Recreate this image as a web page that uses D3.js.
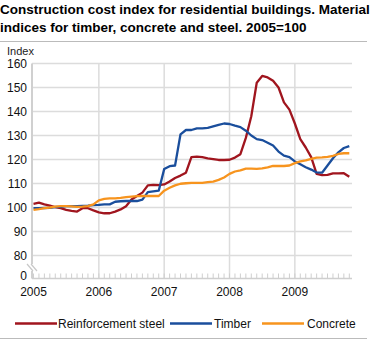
<!DOCTYPE html>
<html><head><meta charset="utf-8">
<script src="https://cdn.jsdelivr.net/npm/d3@7"></script>
<style>body{margin:0;background:#fff;} svg{display:block;font-family:"Liberation Sans",Arial,sans-serif;}</style>
</head><body>
<svg id="c" width="375" height="340"></svg>
<script>
const titleLines = ["Construction cost index for residential buildings. Material","indices for timber, concrete and steel. 2005=100"];
const years = ["2005","2006","2007","2008","2009"];
const yTicks = [80,90,100,110,120,130,140,150,160];
const seriesNames = ["Reinforcement steel","Timber","Concrete"];
// monthly, Jan 2005 - Nov 2009
const steel = [101.5,102,101.3,100.8,100.2,99.7,99.0,98.6,98.3,99.7,99.7,98.8,
  98.0,97.6,97.6,98.3,99.2,100.5,103.3,104.8,106.2,109.2,109.4,109.3,
  109.6,110.8,112.3,113.3,114.5,121.0,121.2,121.0,120.5,120.2,119.8,119.8,
  119.9,120.8,122.2,129,138,152,154.8,154.2,152.8,150,143.8,140.8,
  135,128.5,125,121,114,113.5,113.6,114.2,114.2,114.3,112.8];
const timber = [99.7,99.7,99.8,99.9,100.2,100.3,100.6,100.6,100.6,100.7,100.8,101,
  101.1,101.3,101.3,102.4,102.6,102.7,102.7,102.7,103.3,106.4,106.7,107,
  116,117.2,117.5,130.5,132.3,132.3,133,133,133.2,133.8,134.4,135,
  134.8,134.1,133.5,132,130,128.5,128.1,127,125.8,123.3,121.6,121,
  119.2,118,116.8,115.8,114.6,114.5,117.5,120.5,123,124.8,125.6];
const concrete = [99,99.3,99.7,100,100.4,100.6,100.6,100.5,100.3,100.4,100.6,101.3,
  103,103.6,103.8,103.8,104,104.3,104.5,104.7,104.8,104.8,104.8,104.8,
  107,108.2,109.2,109.9,110.1,110.3,110.3,110.3,110.6,110.8,111.5,112.5,
  114,115,115.5,116.2,116.2,116.1,116.3,116.7,117.3,117.3,117.3,117.5,
  118.5,119.2,119.6,120.3,120.8,120.9,121.1,121.5,122.3,122.6,122.6];
const colors = ["#a0151e","#1a4e9c","#f7941e"];

const svg = d3.select("#c");
const x = d3.scaleLinear().domain([0,58]).range([33.5,349.3]);
const y = d3.scaleLinear().domain([70,160]).range([278.5,63.5]);
const y2 = d3.scaleLinear().domain([80,160]).range([255.5,63.5]);
const left = 32, right = 352, base = 278.5;

// title
svg.append("text").attr("font-weight","bold").attr("font-size",13.5).attr("fill","#000")
  .selectAll("tspan").data(titleLines).join("tspan")
  .attr("x",0).attr("y",(d,i)=>13.5+i*18).text(d=>d);
svg.append("line").attr("x1",0).attr("x2",367).attr("y1",41.5).attr("y2",41.5).attr("stroke","#bbb");
svg.append("line").attr("x1",0).attr("x2",367).attr("y1",338.5).attr("y2",338.5).attr("stroke","#bbb");
svg.append("text").attr("x",7).attr("y",55).attr("font-size",11).attr("fill","#222").text("Index");

// horizontal grid
svg.append("g").selectAll("line").data(yTicks).join("line")
  .attr("x1",left).attr("x2",right).attr("y1",d=>y2(d)).attr("y2",d=>y2(d))
  .attr("stroke","#dcdcdc").attr("stroke-width",1.5);
// vertical grid at year starts
const yearIdx = years.map((d,i)=>i*12);
svg.append("g").selectAll("line").data(yearIdx.slice(1)).join("line")
  .attr("x1",d=>x(d)).attr("x2",d=>x(d)).attr("y1",y2(160)).attr("y2",base)
  .attr("stroke","#dcdcdc").attr("stroke-width",1.5);
// month ticks
svg.append("g").selectAll("line").data(d3.range(steel.length)).join("line")
  .attr("x1",d=>x(d)).attr("x2",d=>x(d)).attr("y1",base-5).attr("y2",base)
  .attr("stroke","#cfcfcf").attr("stroke-width",1);
// axes
svg.append("line").attr("x1",left).attr("x2",right).attr("y1",base).attr("y2",base).attr("stroke","#cfcfcf").attr("stroke-width",1.5);
svg.append("line").attr("x1",left).attr("x2",left).attr("y1",y2(160)).attr("y2",264).attr("stroke","#d0d0d0").attr("stroke-width",2);
svg.append("line").attr("x1",left).attr("x2",left).attr("y1",271).attr("y2",base).attr("stroke","#d0d0d0").attr("stroke-width",2);
[0,4].forEach(o=>svg.append("line").attr("x1",27+o).attr("x2",33+o).attr("y1",264).attr("y2",271).attr("stroke","#c8c8c8").attr("stroke-width",1.2));

// y labels
svg.append("g").selectAll("text").data(yTicks).join("text")
  .attr("x",27).attr("y",d=>y2(d)+4.5).attr("text-anchor","end").attr("font-size",12).attr("fill","#111").text(d=>d);
svg.append("text").attr("x",27).attr("y",base+1).attr("text-anchor","end").attr("font-size",12).attr("fill","#111").text("0");
// x labels
svg.append("g").selectAll("text").data(years).join("text")
  .attr("x",(d,i)=>x(i*12)).attr("y",295.5).attr("text-anchor","middle").attr("font-size",12).attr("fill","#111").text(d=>d);

// lines
const line = d3.line().x((d,i)=>x(i)).y(d=>y2(d));
[steel,timber,concrete].forEach((s,k)=>{
  svg.append("path").datum(s).attr("d",line).attr("fill","none")
    .attr("stroke",colors[k]).attr("stroke-width",2.3).attr("stroke-linejoin","round");
});

// legend
const legX = [15,170,262];
const legTx = [58,214,307];
seriesNames.forEach((n,k)=>{
  svg.append("line").attr("x1",legX[k]).attr("x2",legX[k]+42).attr("y1",323.5).attr("y2",323.5)
    .attr("stroke",colors[k]).attr("stroke-width",2.3);
  svg.append("text").attr("x",legTx[k]).attr("y",327.5).attr("font-size",12).attr("fill","#111").text(n);
});
</script>
</body></html>
